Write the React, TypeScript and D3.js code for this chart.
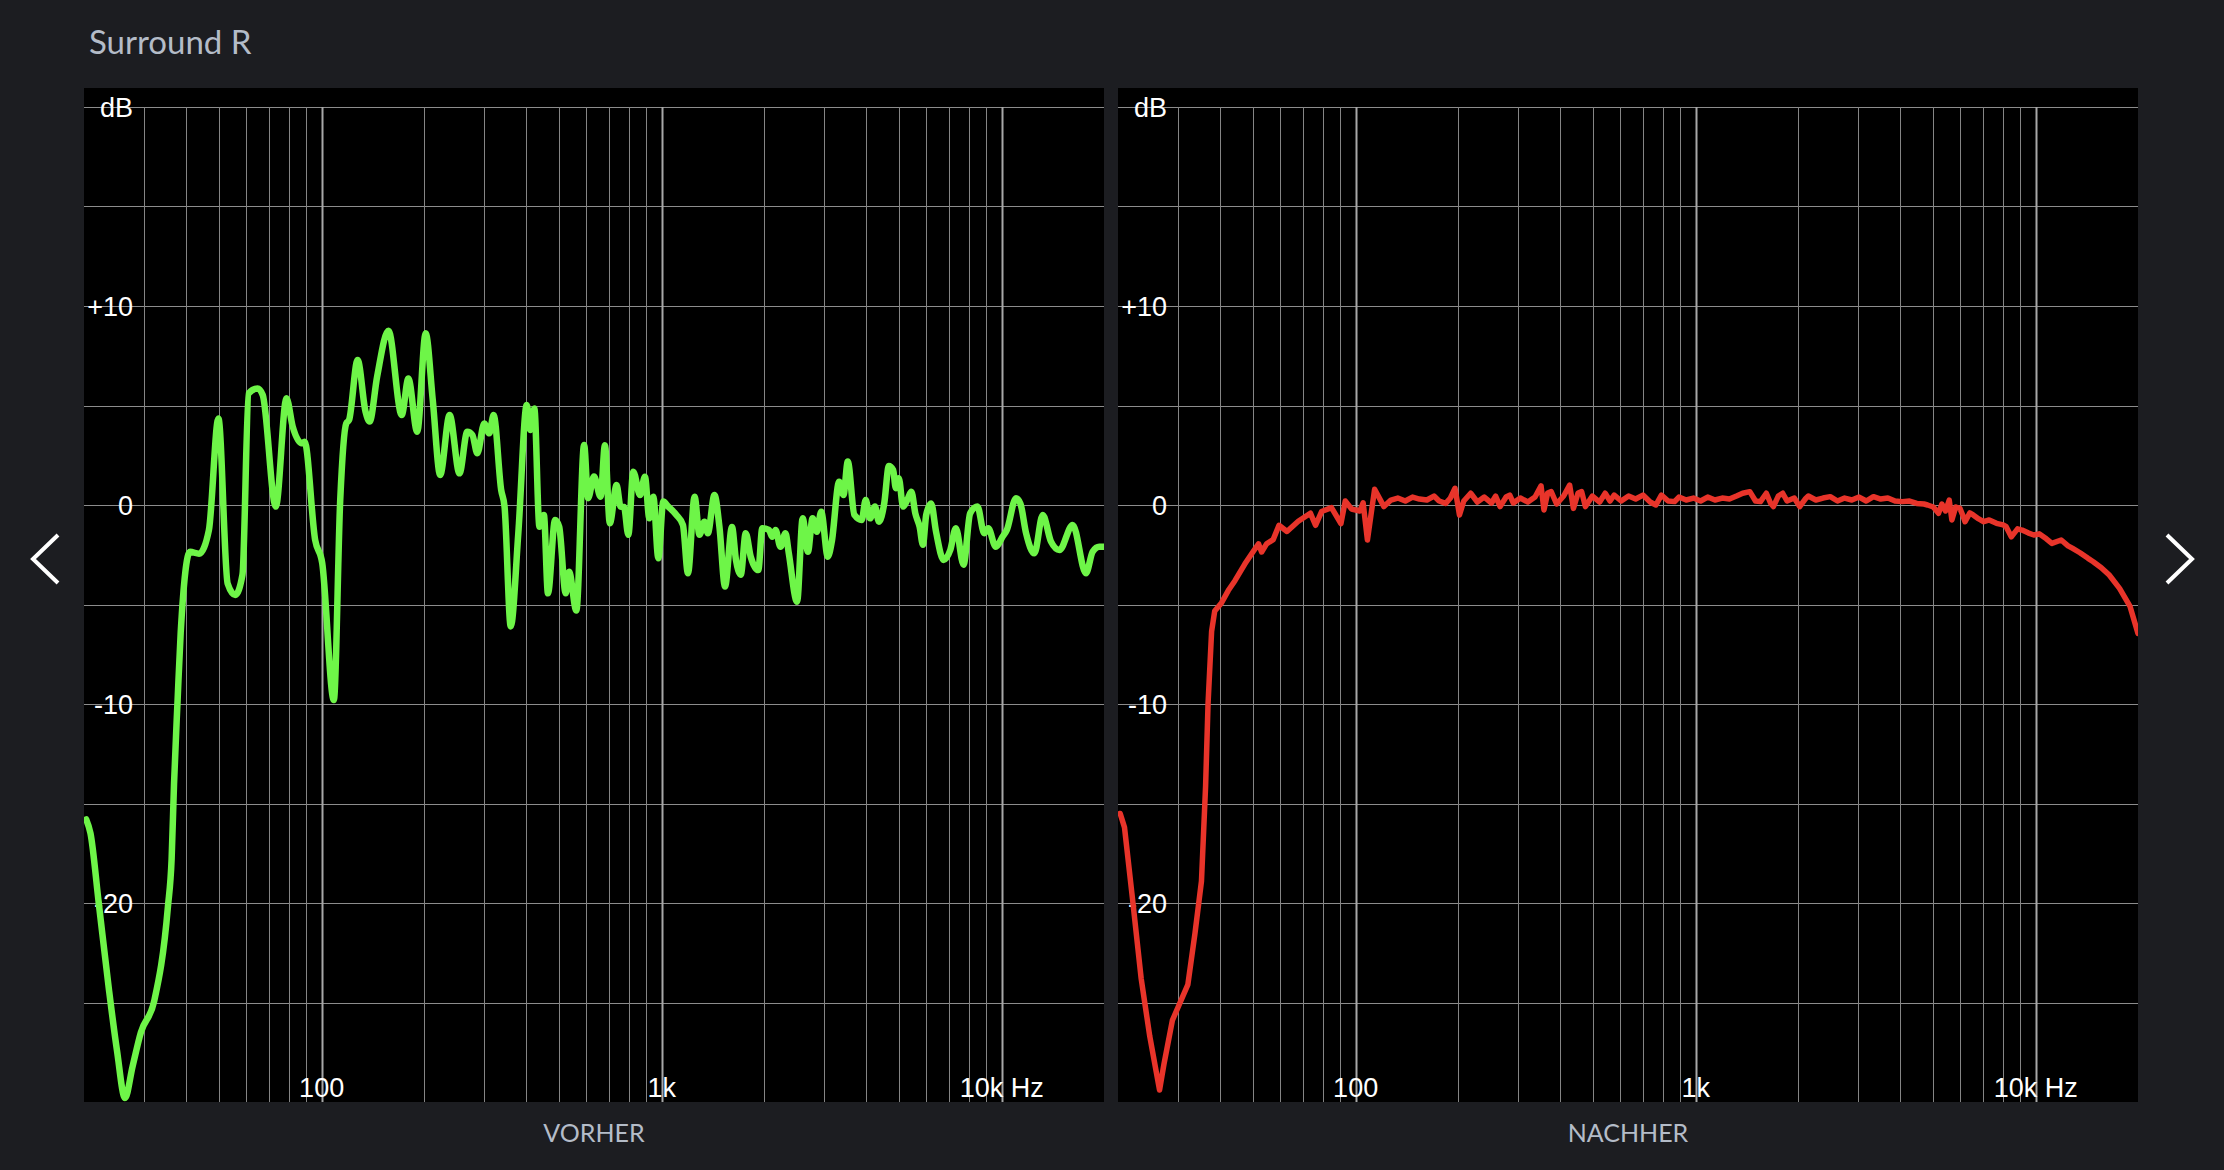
import * as d3 from 'd3';

// frequency response before correction (Hz / dB)
const vorherFreq = [
  20.3, 20.9, 22.1, 23.7, 25.0, 26.4, 27.8, 29.4, 32.2, 35.3, 36.2, 36.8, 37.7, 38.5, 41.0, 43.6,
  46.6, 49.7, 52.9, 55.7, 58.5, 61.0, 64.8, 67.1, 73.3, 78.8, 82.2, 87.4, 89.1, 95.7, 100.4, 108.6,
  113.4, 118.1, 120.4, 127.6, 134.6, 138.4, 145.6, 157.2, 172.0, 179.9, 191.0, 202.3, 212.2, 223.1,
  237.9, 254.3, 268.1, 277.5, 287.0, 300.7, 311.1, 320.5, 337.3, 345.1, 359.9, 378.8, 401.2, 410.7,
  422.2, 437.1, 450.4, 463.0, 485.9, 499.6, 522.2, 534.2, 561.2, 591.5, 607.7, 632.3, 661.4, 681,
  704, 737, 757, 775, 798, 825, 864, 893, 920, 945, 978, 1011, 1046, 1105, 1155, 1195, 1250, 1292,
  1336, 1367, 1430, 1479, 1536, 1610, 1654, 1709, 1767, 1828, 1924, 1977, 2068, 2114, 2162, 2236,
  2313, 2366, 2502, 2599, 2693, 2779, 2861, 2946, 3081, 3165, 3327, 3426, 3527, 3689, 3876, 3982,
  4101, 4241, 4356, 4515, 4659, 4796, 4883, 4983, 5130, 5304, 5424, 5573, 5738, 5867, 5999, 6202,
  6412, 6752, 7062, 7333, 7725, 8078, 8489, 8886, 9130, 9612, 10059, 10360, 11020, 11350, 11800,
  12480, 13210, 13970, 14790, 16180, 17700, 18520, 19360, 20000,
];
const vorherDb = [
  -15.8, -16.5, -20.0, -24.4, -27.4, -29.8, -28.2, -26.5, -24.9, -20.2, -17.8, -14.0, -9.8, -6.4, -2.35, -2.45,
  -1.26, 4.35, -3.94, -4.52, -3.5, 5.61, 5.86, 5.53, -0.08, 5.36, 3.94, 3.1, 3.18, -1.76, -2.93, -9.8,
  0.25, 4.1, 4.27, 7.29, 4.69, 4.19, 6.45, 8.76, 4.52, 6.36, 3.68, 8.63, 5.28, 1.51,
  4.52, 1.59, 3.68, 3.52, 2.6, 4.1, 3.6, 4.52, 0.75, -0.08, -6.1, -1.42, 5.03, 3.77,
  4.85, -1.09, -0.5, -4.44, -0.75, -1.09, -4.44, -3.35, -5.3, 3.02, 0.34, 1.43, 0.42, 3.0,
  -0.92, 1.0, -0.08, -0.1, -1.5, 1.67, 0.5, 1.42, -0.67, 0.42, -2.68, 0.17, -0.08, -0.5, -1.0, -3.43, 0.42, -1.5,
  -0.84, -1.42, 0.5, -1.1, -4.1, -1.1, -2.76, -3.5, -1.42, -2.6, -3.27, -1.17, -1.25, -1.6, -1.25, -2.1,
  -1.42, -2.43, -4.86, -0.67, -2.35, -0.67, -1.34, -0.34, -2.6, -1.84, 1.17, 0.5, 2.18, -0.5, -0.75, 0.25,
  -0.67, -0.08, -0.84, 0.08, 1.96, 1.76, 0.84, 1.34, -0.08, 0.34, 0.67, -0.42, -1.1, -2.0, -0.5, 0.08,
  -1.34, -2.76, -2.26, -1.17, -3.0, -0.42, -0.08, -1.42, -1.17, -2.1, -1.6, -1.25, 0.34, 0.08, -1.42,
  -2.43, -0.5, -1.84, -2.26, -1.0, -3.43, -2.35, -2.1, -2.1,
];

// frequency response after correction (Hz / dB)
const nachherFreq = [
  20.3, 20.9, 22.1, 23.4, 24.8, 26.5, 27.3, 28.9, 32.1, 33.7, 35.2, 36.2, 36.8, 37.7, 38.5, 40.3,
  42.2, 44.2, 47.2, 49.4, 51.8, 52.9, 54.7, 57.2, 59.5, 62.8, 67.8, 73.6, 76.2, 79.4, 84.9, 90.5,
  93.2, 97.3, 100, 102.9, 105.2, 108.3, 113.7, 121.1,
  127, 133, 140, 147, 154, 162, 170, 176, 184, 190, 196, 202, 208, 218, 228, 239, 251, 258, 266, 277,
  284, 291, 305, 321, 337, 351, 358, 367, 376, 390, 409, 426, 437, 451, 462, 474, 497, 522, 542, 560,
  576, 604, 635, 666, 700, 735, 764, 793, 830, 867, 893, 938, 985, 1034, 1085, 1140, 1197, 1257, 1319,
  1375, 1443, 1500, 1551, 1614, 1660, 1693, 1750, 1803, 1857, 1950, 2023, 2100, 2145, 2257, 2370, 2488,
  2613, 2743, 2880, 3024, 3176, 3334, 3501, 3676, 3860, 4053, 4256, 4469, 4692, 4810, 5000, 5180, 5300,
  5432, 5570, 5670, 5820, 5988, 6100, 6200, 6400, 6550, 6800, 7040, 7300, 7670, 8025, 8190, 8480, 8848,
  9120, 9500, 9880, 10240, 10750, 11160, 11890, 12450, 12850, 13500, 14260, 14770, 15600, 16460, 17650,
  18950, 20000,
];
const nachherDb = [
  -15.5, -16.2, -19.9, -23.8, -26.7, -29.4, -28.1, -25.9, -24.1, -21.5, -18.9, -14.1, -10.0, -6.35, -5.33, -4.92,
  -4.3, -3.79, -2.97, -2.46, -1.95, -2.36, -1.95, -1.74, -1.02, -1.33, -0.82, -0.41, -1.02, -0.33, -0.13, -0.94,
  0.2, -0.2, -0.25, -0.3, 0.11, -1.76, 0.79, -0.08,
  0.25, 0.35, 0.2, 0.4, 0.3, 0.25, 0.45, 0.2, 0.08, 0.35, 0.84, -0.5, 0.2, 0.59, 0.15, 0.4, 0.1, 0.45, -0.08, 0.4,
  0.5, 0.1, 0.35, 0.15, 0.4, 0.96, -0.25, 0.6, 0.67, 0.05, 0.45, 1.0, -0.17, 0.6, 0.67, -0.08, 0.45, 0.15, 0.59, 0.2,
  0.5, 0.2, 0.45, 0.3, 0.5, 0.15, 0.0, 0.5, 0.2, 0.17, 0.4, 0.25, 0.35, 0.2, 0.4, 0.25, 0.35, 0.3, 0.45,
  0.59, 0.67, 0.2, 0.17, 0.59, 0.1, -0.08, 0.45, 0.59, 0.2, 0.35, -0.08, 0.3, 0.45, 0.25, 0.35, 0.42,
  0.2, 0.35, 0.25, 0.4, 0.2, 0.42, 0.3, 0.35, 0.2, 0.17, 0.2, 0.08, 0.05, 0.0, -0.1, -0.42, 0.05,
  -0.3, 0.25, -0.75, -0.1, -0.17, -0.5, -0.84, -0.4, -0.5, -0.7, -0.84, -0.75, -0.92, -1.0, -1.09, -1.6, -1.2,
  -1.26, -1.4, -1.51, -1.45, -1.7, -1.93, -1.76, -2.05, -2.18, -2.4, -2.68, -2.85, -3.15, -3.52, -4.19,
  -5.1, -6.45,
];

const yGridDb = [-25, -20, -15, -10, -5, 0, 5, 10, 15, 20];
const yLabelDb = [20, 10, 0, -10, -20];
const yLabelText = ['dB', '+10', '0', '-10', '-20'];
const xLabelFreq = [100, 1000, 10000];
const xLabelText = ['100', '1k', '10k Hz'];

const W = 2224;
const H = 1170;
const PANEL_W = 1020;
const PANEL_TOP = 88;
const PANEL_BOTTOM = 1102;
const BG = '#1c1d21';
const TEXT_GREY = '#b4bcc8';
const LABEL_FONT = "'Liberation Sans', Arial, sans-serif";

const y = d3.scaleLinear().domain([-30, 20]).range([PANEL_BOTTOM, 107]);

function Panel({ x0, freq, db, color, width, label, id, curve }: {
  x0: number; freq: number[]; db: number[]; color: string; width: number; label: string; id: string;
  curve: d3.CurveFactory;
}) {
  const x = d3.scaleLog().domain([20, 20000]).range([x0, x0 + PANEL_W]);
  const gridFreqs = x.ticks().filter(f => f > 20 && f < 20000);
  const pts = freq.map((f, i) => [f, db[i]] as [number, number]);
  const line = d3.line<[number, number]>()
    .x(d => x(d[0]))
    .y(d => y(d[1]))
    .curve(curve);

  return (
    <g>
      <defs>
        <clipPath id={id}>
          <rect x={x0} y={PANEL_TOP} width={PANEL_W} height={PANEL_BOTTOM - PANEL_TOP} />
        </clipPath>
      </defs>
      <rect x={x0} y={PANEL_TOP} width={PANEL_W} height={PANEL_BOTTOM - PANEL_TOP} fill="#000" />
      {yGridDb.map(v => (
        <line key={'h' + v} x1={x0} x2={x0 + PANEL_W} y1={Math.round(y(v)) + 0.5} y2={Math.round(y(v)) + 0.5}
          stroke="#8c8c8c" strokeWidth={1} />
      ))}
      {gridFreqs.map(f => {
        const major = xLabelFreq.includes(f);
        const px = Math.round(x(f)) + 0.5;
        return (
          <line key={'v' + f} x1={px} x2={px} y1={y(20)} y2={PANEL_BOTTOM}
            stroke={major ? '#a8a8a8' : '#858585'} strokeWidth={major ? 2 : 1} />
        );
      })}
      {yLabelDb.map((v, i) => (
        <text key={'yl' + v} x={x0 + 49} y={y(v)} dy="0.36em" textAnchor="end"
          fill="#fff" fontSize={27} fontFamily={LABEL_FONT}>
          {yLabelText[i]}
        </text>
      ))}
      {xLabelFreq.map((f, i) => (
        <text key={'xl' + f} x={x(f)} y={1097} textAnchor="middle"
          fill="#fff" fontSize={27} fontFamily={LABEL_FONT}>
          {xLabelText[i]}
        </text>
      ))}
      <path d={line(pts) || ''} fill="none" stroke={color} strokeWidth={width}
        strokeLinejoin="round" strokeLinecap="round" clipPath={`url(#${id})`} />
      <text x={x0 + PANEL_W / 2} y={1142} textAnchor="middle" fill={TEXT_GREY}
        fontSize={25} fontFamily="Lato, 'Open Sans', sans-serif">
        {label}
      </text>
    </g>
  );
}

export default function App() {
  return (
    <svg width={W} height={H} style={{ position: 'absolute', left: 0, top: 0, display: 'block' }}>
      <rect x={0} y={0} width={W} height={H} fill={BG} />
      <text x={89} y={54} fill={TEXT_GREY} fontSize={33} fontFamily="Lato, 'Open Sans', sans-serif">
        Surround R
      </text>
      <Panel x0={84} freq={vorherFreq} db={vorherDb} color="#6ef548" width={6.5} label="VORHER"
        id="clipL" curve={d3.curveMonotoneX} />
      <Panel x0={1118} freq={nachherFreq} db={nachherDb} color="#e8342a" width={5.5} label="NACHHER"
        id="clipR" curve={d3.curveLinear} />
      <path d="M58,535 L33,559 L58,583" fill="none" stroke="#fff" strokeWidth={4} />
      <path d="M2167,535 L2192,559 L2167,583" fill="none" stroke="#fff" strokeWidth={4} />
    </svg>
  );
}
